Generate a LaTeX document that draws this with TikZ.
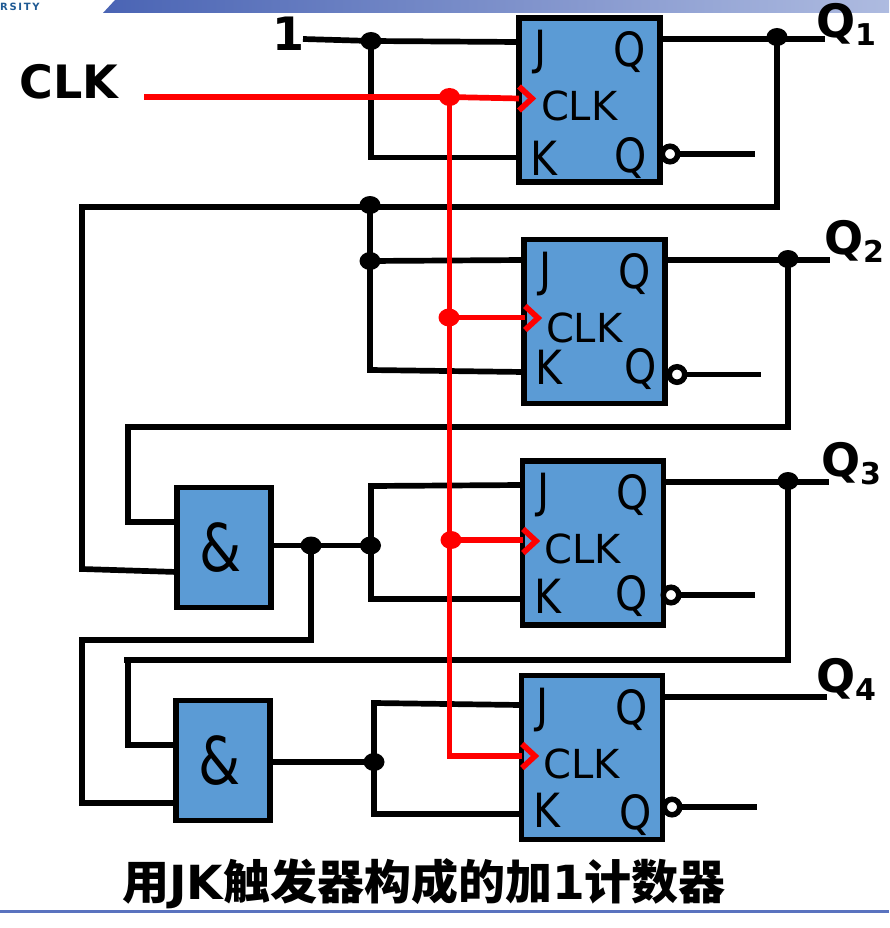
\documentclass[tikz,border=0pt]{standalone}
\usepackage{fontspec}
\setmainfont{DejaVu Sans}
\newfontfamily\cjkfont{Noto Sans CJK SC}
\usepackage{xcolor}
\usepackage{graphicx}
\usetikzlibrary{positioning}
\usetikzlibrary{shapes.geometric}
\definecolor{boxblue}{HTML}{5B9BD5}
\definecolor{bandleft}{HTML}{4A64B4}
\definecolor{bandright}{HTML}{AEBBE0}
\definecolor{rulecolor}{HTML}{5A73BF}
\definecolor{logoblue}{HTML}{1F5A94}
\tikzset{
  ffbox/.style={draw=black, fill=boxblue, line width=5.5pt, minimum width=141pt, minimum height=164pt, inner sep=0pt},
  andbox/.style={draw=black, fill=boxblue, line width=5.5pt, minimum width=94pt, minimum height=120pt, inner sep=0pt},
  pinlabel/.style={inner sep=0pt, font=\fontsize{41}{41}\selectfont},
  clklabel/.style={inner sep=0pt, font=\fontsize{40}{40}\selectfont},
  biglabel/.style={inner sep=0pt, font=\fontsize{46}{46}\selectfont\bfseries},
  wire/.style={draw=black, line width=5.7pt},
  clkwire/.style={draw=red, line width=5.7pt},
  junction/.style={ellipse, fill=black, minimum width=21pt, minimum height=18pt, inner sep=0pt},
  clkjunction/.style={ellipse, fill=red, minimum width=21pt, minimum height=18pt, inner sep=0pt},
  bubble/.style={circle, draw=black, fill=white, line width=5.5pt, minimum size=15.5pt, inner sep=0pt, outer sep=0pt},
}
\newcommand{\qname}[1]{Q{\fontsize{30}{30}\selectfont\raisebox{-8pt}{#1}}}
\newcommand{\tallpin}[1]{\scalebox{1}[1.15]{#1}}

\begin{document}
\begin{tikzpicture}[x=1pt, y=-1pt]
  \useasboundingbox (0,0) rectangle (889,928);

  % Header and footer
  \shade[left color=bandleft, right color=bandright] (103,13) -- (115,0) -- (889,0) -- (889,13) -- cycle;
  \fill[rulecolor] (0,910) rectangle (889,913);
  \node[inner sep=0pt, text=logoblue, font=\fontsize{10}{10}\selectfont\bfseries, anchor=west] (logo) at (0,7) {R\,S\,I\,T\,Y};

  % Define nodes
  \node[ffbox] (ff1) at (589.5,100) {};
  \node[ffbox] (ff2) at (594.5,321.5) {};
  \node[ffbox] (ff3) at (593,543) {};
  \node[ffbox] (ff4) at (592,757.5) {};
  \node[andbox] (and1) at (224,547.5) {\fontsize{54}{54}\selectfont\hspace*{-7pt}\scalebox{1}[1.22]{\&}};
  \node[andbox] (and2) at (223,760.5) {\fontsize{54}{54}\selectfont\hspace*{-7pt}\scalebox{1}[1.22]{\&}};

  % Pin labels
  \foreach \n/\kdy/\qdx/\qdy in {1/143/114/143, 2/131/119/132, 3/138/112/138, 4/138/117/142} {
    \node[pinlabel] (j\n) at ([xshift=24pt, yshift=-37pt]ff\n.north west) {\tallpin{J}};
    \node[pinlabel] (q\n) at ([xshift=113pt, yshift=-37pt]ff\n.north west) {\tallpin{Q}};
    \node[clklabel] (clk\n) at ([xshift=63pt, yshift=-91pt]ff\n.north west) {CLK};
    \node[pinlabel] (k\n) at ([xshift=28pt, yshift=-\kdy pt]ff\n.north west) {\tallpin{K}};
    \node[pinlabel] (qn\n) at ([xshift=\qdx pt, yshift=-\qdy pt]ff\n.north west) {\tallpin{Q}};
  }

  \node[biglabel] (one) at (288,34) {1};
  \node[biglabel] (clkin) at (69,82) {CLK};
  \node[biglabel] (qout1) at (846,24) {\qname{1}};
  \node[biglabel] (qout2) at (854,241) {\qname{2}};
  \node[biglabel] (qout3) at (851,464) {\qname{3}};
  \node[biglabel] (qout4) at (846,679) {\qname{4}};
  \node[inner sep=0pt, font=\fontsize{47}{47}\selectfont\bfseries] (title) at (424,884) {{\cjkfont 用}JK{\cjkfont 触发器构成的加}1{\cjkfont 计数器}};

  % Junctions and wire ends
  \node[junction] (d1a) at (371,41) {};
  \node[junction] (d1q) at (777,37) {};
  \node[junction] (d2a) at (370,205) {};
  \node[junction] (d2b) at (370,261) {};
  \node[junction] (d2q) at (788,259) {};
  \node[junction] (d3a) at (370.5,545.5) {};
  \node[junction] (d3o) at (311,545.5) {};
  \node[junction] (d3q) at (788,481) {};
  \node[junction] (d4a) at (374,762) {};

  \coordinate (start1) at (303,39);
  \coordinate (j1in) at (519,42);
  \coordinate (k1c) at (371,157.5);
  \coordinate (k1in) at (519,157.5);
  \coordinate (q1a) at (660,39);
  \coordinate (q1b) at (825,39);
  \coordinate (fb1r) at (777,207);
  \coordinate (fb1l) at (79,207);
  \coordinate (fb1m) at (82,207);
  \coordinate (fb1d) at (82,569);
  \coordinate (a1in2) at (177,572);
  \coordinate (j2in) at (524,260);
  \coordinate (k2c) at (370,370);
  \coordinate (k2in) at (524,372);
  \coordinate (q2a) at (668,260);
  \coordinate (q2b) at (830,260);
  \coordinate (fb2r) at (788,427);
  \coordinate (fb2l) at (128,427);
  \coordinate (fb2d) at (128,522);
  \coordinate (a1in1) at (177,522);
  \coordinate (a1out) at (271,545.5);
  \coordinate (o1d) at (311,640);
  \coordinate (o1l) at (82,640);
  \coordinate (o1b) at (82,803);
  \coordinate (a2in2) at (176,803);
  \coordinate (j3c) at (371,486);
  \coordinate (j3in) at (522,485);
  \coordinate (k3c) at (371,599);
  \coordinate (k3in) at (522,599);
  \coordinate (q3a) at (664,482);
  \coordinate (q3b) at (829,482);
  \coordinate (fb3r) at (788,660);
  \coordinate (fb3l) at (124,660);
  \coordinate (fb3m) at (128,660);
  \coordinate (fb3d) at (128,745);
  \coordinate (a2in1) at (176,745);
  \coordinate (a2out) at (270,762);
  \coordinate (j4c) at (374,703);
  \coordinate (j4in) at (521,705);
  \coordinate (k4c) at (374,814);
  \coordinate (k4in) at (521,814);
  \coordinate (q4a) at (663,697);
  \coordinate (q4b) at (827,697);

  % Connect nodes
  \draw[wire] (start1) -- (d1a.center) -- (j1in);
  \draw[wire] (d1a.center) -- (k1c) -- (k1in);
  \draw[wire] (q1a) -- (q1b);
  \draw[wire] (d1q.center) -- (fb1r) -- (fb1l);
  \draw[wire] (fb1m) -- (fb1d) -- (a1in2);
  \draw[wire] (d2a.center) -- (k2c) -- (k2in);
  \draw[wire] (d2b.center) -- (j2in);
  \draw[wire] (q2a) -- (q2b);
  \draw[wire] (d2q.center) -- (fb2r) -- (fb2l) -- (fb2d) -- (a1in1);
  \draw[wire] (a1out) -- (d3a.center);
  \draw[wire] (d3o.center) -- (o1d) -- (o1l) -- (o1b) -- (a2in2);
  \draw[wire] (j3in) -- (j3c) -- (k3c) -- (k3in);
  \draw[wire] (q3a) -- (q3b);
  \draw[wire] (d3q.center) -- (fb3r) -- (fb3l);
  \draw[wire] (fb3m) -- (fb3d) -- (a2in1);
  \draw[wire] (a2out) -- (d4a.center);
  \draw[wire] (j4in) -- (j4c) -- (k4c) -- (k4in);
  \draw[wire] (q4a) -- (q4b);

  % Inverted outputs
  \foreach \n/\bx/\by/\ex in {1/670/154/755, 2/677/374.5/761, 3/671/595/755, 4/672/807/757} {
    \coordinate (nend\n) at (\ex,\by);
    \node[bubble] (inv\n) at (\bx,\by) {};
    \draw[wire] (inv\n) -- (nend\n);
  }

  % Clock
  \coordinate (clkstart) at (144,97);
  \coordinate (clkbot) at (449.5,756);
  \coordinate (c1) at (519,98.5);
  \coordinate (c2) at (525,317.5);
  \coordinate (c3) at (523,540);
  \coordinate (c4) at (522,756);
  \node[clkjunction] (r1) at (449.5,97) {};
  \node[clkjunction] (r2) at (449,317.5) {};
  \node[clkjunction] (r3) at (451,540) {};
  \draw[clkwire] (clkstart) -- (r1.center) -- (c1);
  \draw[clkwire] (r1.center) -- (clkbot) -- (c4);
  \draw[clkwire] (r2.center) -- (c2);
  \draw[clkwire] (r3.center) -- (c3);
  \foreach \n/\tx/\ty in {1/519/98.5, 2/525/318, 3/523/541, 4/522/756} {
    \draw[clkwire] (\tx,\ty-12) -- (\tx+13,\ty) -- (\tx,\ty+12);
  }
\end{tikzpicture}
\end{document}
